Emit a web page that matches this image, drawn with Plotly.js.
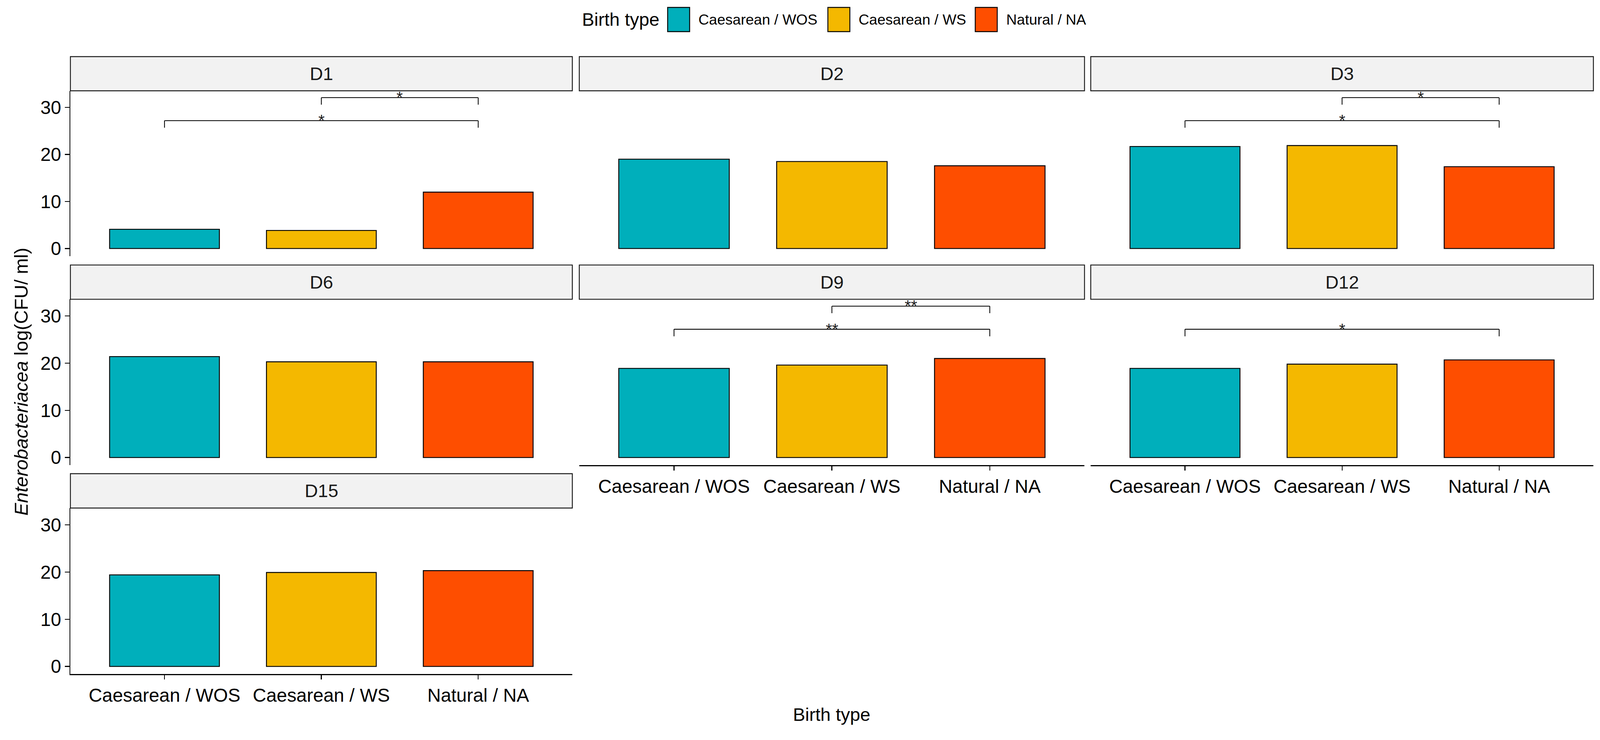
<!DOCTYPE html>
<html>
<head>
<meta charset="utf-8">
<script src="https://cdn.plot.ly/plotly-3.0.1.min.js"></script>
<style>html,body{margin:0;padding:0;background:#fff;overflow:hidden;}#chart{width:100vw;height:100vh;}</style>
</head>
<body>
<div id="chart"></div>
<script>
// ---- data ----
const categories = ['Caesarean / WOS', 'Caesarean / WS', 'Natural / NA'];
const days = ['D1', 'D2', 'D3', 'D6', 'D9', 'D12', 'D15'];
const wos = [4.1, 19.0, 21.7, 21.4, 18.9, 18.9, 19.4];
const ws  = [3.85, 18.5, 21.9, 20.3, 19.6, 19.8, 19.9];
const nat = [12.0, 17.6, 17.4, 20.3, 21.0, 20.7, 20.3];
const sigDay   = ['D1', 'D1', 'D3', 'D3', 'D9', 'D9', 'D12'];
const sigFrom  = ['Caesarean / WS', 'Caesarean / WOS', 'Caesarean / WS', 'Caesarean / WOS', 'Caesarean / WS', 'Caesarean / WOS', 'Caesarean / WOS'];
const sigTo    = ['Natural / NA', 'Natural / NA', 'Natural / NA', 'Natural / NA', 'Natural / NA', 'Natural / NA', 'Natural / NA'];
const sigY     = [32.1, 27.2, 32.1, 27.2, 32.1, 27.2, 27.2];
const sigLabel = ['*', '*', '*', '*', '**', '**', '*'];
const yTicks = [0, 10, 20, 30];

// ---- style / layout geometry (reference pixel grid 4364 x 1895) ----
const W = 4364, H = 1895;
const VW = window.innerWidth || document.documentElement.clientWidth || W;
const VH = window.innerHeight || document.documentElement.clientHeight || H;
const s = Math.min(VW / W, VH / H);
const colors = ['#00AFBB', '#F4B800', '#FE4E00'];
const FONT = '"Liberation Sans", Arial, sans-serif';
const px = x => x / W;
const py = y => 1 - y / H;
const colPx = [[192, 1561], [1580, 2958], [2975, 4346]];
const rowPx = [ // [stripTop, plotTop, plotBottom]
  [145, 232.5, 655.7],
  [678.6, 766.4, 1191],
  [1213, 1301, 1726]
];
const tipLen = 1.5;

const traces = [];
const layout = {
  width: VW, height: VH,
  margin: {l: 0, r: 0, t: 0, b: 0},
  paper_bgcolor: '#ffffff', plot_bgcolor: '#ffffff',
  font: {family: FONT, color: '#000000'},
  showlegend: false,
  shapes: [], annotations: []
};

days.forEach((d, i) => {
  const row = Math.floor(i / 3), col = i % 3;
  const n = i === 0 ? '' : String(i + 1);
  const hasX = (i + 3) >= days.length;
  const hasY = col === 0;
  traces.push({
    type: 'bar', x: categories, y: [wos[i], ws[i], nat[i]],
    xaxis: 'x' + n, yaxis: 'y' + n, width: 0.7,
    marker: {color: colors, line: {color: '#000000', width: 2.5 * s}},
    hoverinfo: 'x+y'
  });
  const [c0, c1] = colPx[col];
  const [sTop, pTop, pBot] = rowPx[row];
  layout['xaxis' + n] = {
    domain: [px(c0), px(c1)], anchor: 'y' + n,
    type: 'category', categoryorder: 'array', categoryarray: categories,
    range: [-0.6, 2.6], showgrid: false, zeroline: false,
    showline: hasX, linecolor: '#000000', linewidth: 2.8 * s,
    ticks: hasX ? 'outside' : '', ticklen: 12 * s, tickwidth: 2.5 * s, tickcolor: '#000000',
    showticklabels: hasX, tickfont: {family: FONT, size: 51 * s, color: '#000000'}
  };
  layout['yaxis' + n] = {
    domain: [py(pBot), py(pTop)], anchor: 'x' + n,
    range: [-1.6, 33.55], showgrid: false, zeroline: false,
    showline: hasY, linecolor: '#000000', linewidth: 2.8 * s,
    ticks: hasY ? 'outside' : '', ticklen: 12 * s, tickwidth: 2.5 * s, tickcolor: '#000000',
    tickmode: 'array', tickvals: yTicks,
    showticklabels: hasY, tickfont: {family: FONT, size: 51 * s, color: '#000000'}
  };
  // facet strip
  layout.shapes.push({
    type: 'rect', xref: 'paper', yref: 'paper',
    x0: px(c0), x1: px(c1), y0: py(pTop), y1: py(sTop),
    fillcolor: '#F2F2F2', line: {color: '#1a1a1a', width: 2.5 * s}, layer: 'below'
  });
  layout.annotations.push({
    xref: 'paper', yref: 'paper', x: px((c0 + c1) / 2), y: py((sTop + pTop) / 2),
    text: d, showarrow: false, xanchor: 'center', yanchor: 'middle',
    font: {family: FONT, size: 50 * s, color: '#1a1a1a'}
  });
});

// significance brackets
sigDay.forEach((d, k) => {
  const i = days.indexOf(d);
  const n = i === 0 ? '' : String(i + 1);
  const xa = 'x' + n, ya = 'y' + n;
  const a = categories.indexOf(sigFrom[k]), b = categories.indexOf(sigTo[k]);
  const y = sigY[k];
  const ln = {color: '#000000', width: 2.2 * s};
  layout.shapes.push({type: 'line', xref: xa, yref: ya, x0: a, x1: b, y0: y, y1: y, line: ln});
  layout.shapes.push({type: 'line', xref: xa, yref: ya, x0: a, x1: a, y0: y, y1: y - tipLen, line: ln});
  layout.shapes.push({type: 'line', xref: xa, yref: ya, x0: b, x1: b, y0: y, y1: y - tipLen, line: ln});
  layout.annotations.push({
    xref: xa, yref: ya, x: (a + b) / 2, y: y, text: sigLabel[k],
    showarrow: false, xanchor: 'center', yanchor: 'bottom', yshift: -26 * s,
    font: {family: FONT, size: 44 * s, color: '#1a1a1a'}
  });
});

// axis titles
layout.annotations.push({
  xref: 'paper', yref: 'paper', x: px(2268), y: py(1830),
  text: 'Birth type', showarrow: false, xanchor: 'center', yanchor: 'middle',
  font: {family: FONT, size: 50 * s, color: '#000000'}
});
layout.annotations.push({
  xref: 'paper', yref: 'paper', x: px(58), y: py(977),
  text: '<i>Enterobacteriacea</i> log(CFU/ ml)', showarrow: false, textangle: -90,
  xanchor: 'center', yanchor: 'middle',
  font: {family: FONT, size: 52 * s, color: '#000000'}
});

// legend (top, horizontal)
const legTitleX = 1585;
const keyX = [1821, 2258, 2660];
const keyW = 60, keyH = 62;
const legCY = 50;
layout.annotations.push({
  xref: 'paper', yref: 'paper', x: px(legTitleX), y: py(legCY),
  text: 'Birth type', showarrow: false, xanchor: 'left', yanchor: 'middle',
  font: {family: FONT, size: 50 * s, color: '#000000'}
});
categories.forEach((c, j) => {
  layout.shapes.push({
    type: 'rect', xref: 'paper', yref: 'paper',
    x0: px(keyX[j]), x1: px(keyX[j] + keyW), y0: py(legCY + keyH / 2), y1: py(legCY - keyH / 2),
    fillcolor: colors[j], line: {color: '#000000', width: 2.5 * s}
  });
  layout.annotations.push({
    xref: 'paper', yref: 'paper', x: px(keyX[j] + keyW + 22), y: py(legCY),
    text: c, showarrow: false, xanchor: 'left', yanchor: 'middle',
    font: {family: FONT, size: 40 * s, color: '#000000'}
  });
});

Plotly.newPlot('chart', traces, layout, {displayModeBar: false, staticPlot: true});
</script>
</body>
</html>
